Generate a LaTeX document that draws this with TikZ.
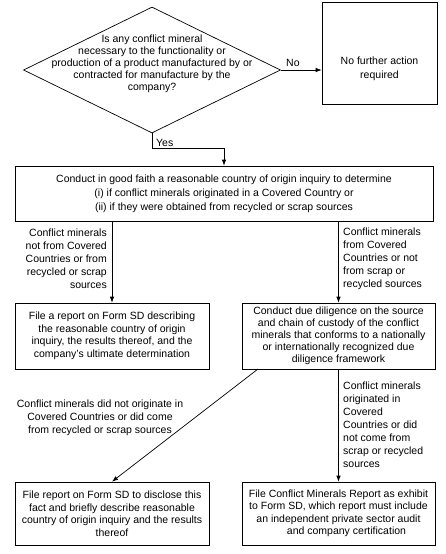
\documentclass[tikz,border=0pt]{standalone}
\usepackage{fontspec}
\setmainfont{Liberation Sans}
\usetikzlibrary{shapes.geometric,arrows.meta}
\tikzset{
  txt/.style={font=\fontsize{10.5}{12.5}\selectfont, inner sep=0pt},
  box/.style={draw, line width=0.7pt, align=center, inner sep=2pt, font=\fontsize{10.5}{12.5}\selectfont},
  conn/.style={line width=0.7pt, -{Latex[length=6pt,width=4.5pt]}},
  plain/.style={line width=0.7pt}
}
\begin{document}
\begin{tikzpicture}[x=1pt,y=-1pt]
\useasboundingbox (0,0) rectangle (446,554);
% decision
\node[draw, line width=0.7pt, diamond, minimum width=257pt, minimum height=126pt, inner sep=0pt] (q) at (152,70) {};
\node[txt, align=center, font=\fontsize{10.5}{12}\selectfont] (qt) at (152,64) {Is any conflict mineral\\necessary to the functionality or\\production of a product manufactured by or\\contracted for manufacture by the\\company?};
\node[box, minimum width=115pt, minimum height=102pt] (no) at (379.5,53) {};
\node[txt, align=center, font=\fontsize{10.5}{14}\selectfont] (notxt) at (379.5,69) {No further action\\required};
\node[box, minimum width=418pt, minimum height=55pt, font=\fontsize{10.5}{14}\selectfont] (inq) at (224,193.5) {Conduct in good faith a reasonable country of origin inquiry to determine\\(i) if conflict minerals originated in a Covered Country or\\(ii) if they were obtained from recycled or scrap sources};
\node[box, minimum width=194pt, minimum height=66pt] (rep1) at (112,336) {File a report on Form SD describing\\the reasonable country of origin\\inquiry, the results thereof, and the\\company's ultimate determination};
\node[box, minimum width=193pt, minimum height=66pt, font=\fontsize{10.5}{12}\selectfont] (dd) at (338.5,336) {Conduct due diligence on the source\\and chain of custody of the conflict\\minerals that conforms to a nationally\\or internationally recognized due\\diligence framework};
\node[box, minimum width=194pt, minimum height=63pt] (rep2) at (112,513.5) {File report on Form SD to disclose this\\fact and briefly describe reasonable\\country of origin inquiry and the results\\thereof};
\node[box, minimum width=193pt, minimum height=63pt] (cmr) at (338.5,513.5) {File Conflict Minerals Report as exhibit\\to Form SD, which report must include\\an independent private sector audit\\\hspace*{16pt}and company certification};
% connectors
\draw[conn] (q.east) -- (q.east -| no.west);
\node[txt, anchor=south west] (nolbl) at (286,67) {No};
\coordinate (yc) at (152,148);
\draw[conn] (q.south) -- (yc) -| (inq.north);
\node[txt, anchor=south west] (yeslbl) at (156,146.5) {Yes};
\draw[conn] (rep1.north |- inq.south) -- (rep1.north);
\draw[conn] (dd.north |- inq.south) -- (dd.north);
\node[txt, anchor=east, align=right, font=\fontsize{10.5}{13}\selectfont] (l1) at (107,259) {Conflict minerals\\not from Covered\\Countries or from\\recycled or scrap\\sources};
\node[txt, anchor=west, align=left, font=\fontsize{10.5}{13}\selectfont] (l2) at (343,259) {Conflict minerals\\from Covered\\Countries or not\\from scrap or\\recycled sources};
\coordinate (dstart) at (258,369);
\draw[conn] (dstart) -- (rep2.north);
\draw[conn] (dd.south) -- (cmr.north);
\node[txt, align=center, font=\fontsize{10.5}{13}\selectfont] (l3) at (100,418) {Conflict minerals did not originate in\\Covered Countries or did come\\from recycled or scrap sources};
\node[txt, anchor=west, align=left, font=\fontsize{10.5}{13}\selectfont] (l4) at (343,425) {Conflict minerals\\originated in\\Covered\\Countries or did\\not come from\\scrap or recycled\\sources};
\end{tikzpicture}
\end{document}
